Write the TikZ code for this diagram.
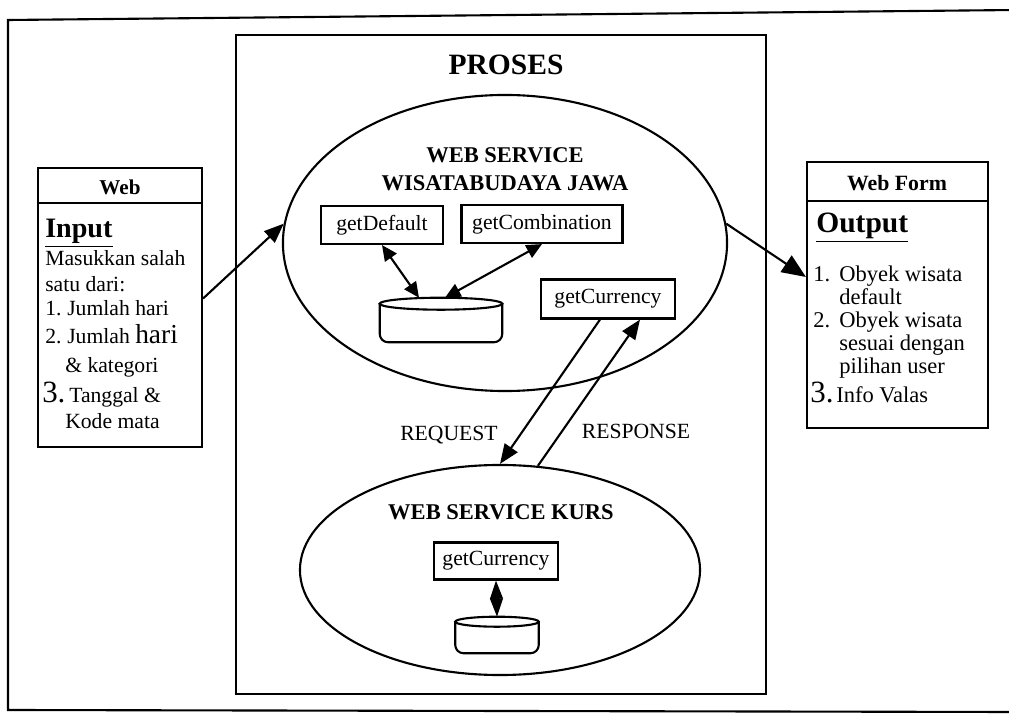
\documentclass[tikz,border=0pt]{standalone}
\usepackage{fontspec}
\setmainfont{Liberation Serif}
\usetikzlibrary{arrows.meta,calc,shapes.geometric}
\newcommand\drawcyl[2]{%
  \draw[ln,rounded corners=6pt] ($(#1.north west)+(0,#2)$) -- (#1.south west) -- (#1.south east) -- ($(#1.north east)+(0,#2)$);
  \path let \p1=($(#1.east)-(#1.west)$) in
    \pgfextra{\pgfmathsetmacro\cylrx{0.5*\x1}}
    [draw,ln] ($(#1.north)+(0,#2)$) ellipse [x radius=\cylrx pt, y radius=#2*0.025cm];
}
\begin{document}
\begin{tikzpicture}[x=0.025cm,y=-0.025cm,
  ln/.style={line width=1.5pt},
  fbox/.style={draw,ln,rectangle,inner sep=0pt},
  fn/.style={font=\fontsize{15.4}{15.4}\selectfont},
  fo/.style={font=\fontsize{16}{16}\selectfont},
  tl/.style={anchor=base west,inner sep=0pt},
  ttl/.style={font=\fontsize{16}{20}\selectfont\bfseries,align=center,inner sep=0pt},
  onetip/.style={-{Triangle[length=14pt,width=11pt]}},
  bigtip/.style={-{Triangle[length=17pt,width=14pt]}},
  twotip/.style={{Triangle[length=11pt,width=10pt]}-{Triangle[length=11pt,width=10pt]}},
  diam/.style={{Triangle[length=13pt,width=9pt]}-{Triangle[length=13pt,width=9pt]}}
]
\useasboundingbox (0,0) rectangle (1009,715);
% outer frame
\draw[ln] (1015,10) -- (8,20) -- (8,710) -- (1015,712);
% PROSES box
\node[fbox,minimum width=13.25cm,minimum height=16.475cm] (proses) at (501,364.5) {};
\node[font=\fontsize{21}{21}\selectfont\bfseries,inner sep=0pt] (prosesT) at (506,65) {PROSES};
% upper web service
\node[draw,ln,ellipse,inner sep=0pt,minimum width=11.1cm,minimum height=7.4cm] (ws1) at (505,243) {};
\node[ttl] (ws1T) at (505,169) {WEB SERVICE\\WISATABUDAYA JAWA};
\node[fbox,fn,minimum width=3.05cm,minimum height=0.95cm] (gd) at (382,225) {getDefault};
\node[fbox,fn,minimum width=4.025cm,minimum height=0.95cm] (gc) at (542,224) {getCombination};
\node[minimum width=3.05cm,minimum height=1.1cm,inner sep=0pt] (db1) at (441,320) {};
\drawcyl{db1}{6}
\node[fbox,fn,minimum width=3.35cm,minimum height=0.975cm] (gcu1) at (608,299) {getCurrency};
\draw[ln,twotip] (gd.south) -- ($(db1.north)+(-22,0)$);
\draw[ln,twotip] (gc.south) -- ($(db1.north)+(4,0)$);
% lower web service
\node[draw,ln,ellipse,inner sep=0pt,minimum width=10cm,minimum height=5.25cm] (ws2) at (500,570) {};
\node[ttl] (ws2T) at (501,512) {WEB SERVICE KURS};
\node[fbox,fn,minimum width=3.1cm,minimum height=0.925cm] (gcu2) at (496,561) {getCurrency};
\node[minimum width=2.075cm,minimum height=0.9cm,inner sep=0pt] (db2) at (497,635) {};
\drawcyl{db2}{5}
\draw[ln,diam] (gcu2.south) -- (db2.north);
% request / response
\draw[ln,onetip] ($(gcu1.south)+(-8,0)$) -- (ws2.90);
\draw[ln,onetip] (ws2.70) -- ($(gcu1.south)+(32,0)$);
\node[fn,inner sep=0pt] (req) at (449,435) {REQUEST};
\node[fn,inner sep=0pt] (resp) at (636,431) {RESPONSE};
% Web input box
\node[fbox,minimum width=4.1cm,minimum height=6.975cm] (web) at (120,307.5) {};
\draw[ln] ($(web.north west)+(0,36)$) -- ($(web.north east)+(0,36)$);
\node[font=\fontsize{15}{15}\selectfont\bfseries,inner sep=0pt] (webT) at (120,187) {Web};
\node[tl] (i0) at (45,238) {\fontsize{20}{20}\selectfont\bfseries\underline{Input}};
\node[tl,fn] (i1) at (45,266) {Masukkan salah};
\node[tl,fn] (i2) at (45,292) {satu dari:};
\node[tl,fn] (i3a) at (45,316) {1.};
\node[tl,fn] (i3b) at (67,316) {Jumlah hari};
\node[tl,fn] (i4a) at (45,344) {2.};
\node[tl,fn] (i4b) at (67,344) {Jumlah {\fontsize{19.5}{19.5}\selectfont hari}};
\node[tl,fn] (i5) at (65,373) {\& kategori};
\node[tl] (i6a) at (42,403) {\fontsize{22}{22}\selectfont 3.};
\node[tl,fn] (i6b) at (69,403) {Tanggal \&};
\node[tl,fn] (i7) at (65,429) {Kode mata};
% Web Form output box
\node[fbox,minimum width=4.525cm,minimum height=6.65cm] (wf) at (897.5,295) {};
\draw[ln] ($(wf.north west)+(0,40)$) -- ($(wf.north east)+(0,40)$);
\node[font=\fontsize{15.5}{15.5}\selectfont\bfseries,inner sep=0pt] (wfT) at (897,183) {Web Form};
\node[tl] (o0) at (816,233) {\fontsize{21}{21}\selectfont\bfseries\underline{Output}};
\node[tl,fo] (o1a) at (813,282) {1.};
\node[tl,fo] (o1b) at (839,282) {Obyek wisata};
\node[tl,fo] (o2) at (839,305) {default};
\node[tl,fo] (o3a) at (813,328) {2.};
\node[tl,fo] (o3b) at (839,328) {Obyek wisata};
\node[tl,fo] (o4) at (839,351) {sesuai dengan};
\node[tl,fo] (o5) at (839,374) {pilihan user};
\node[tl] (o6a) at (810,403) {\fontsize{22}{22}\selectfont 3.};
\node[tl,fo] (o6b) at (836,403) {Info Valas};
% input / output arrows
\draw[ln,onetip] ($(web.east)+(0,-9)$) -- (ws1.175);
\draw[ln,bigtip] (ws1.5) -- ($(wf.west)+(0,-18)$);
\end{tikzpicture}
\end{document}
